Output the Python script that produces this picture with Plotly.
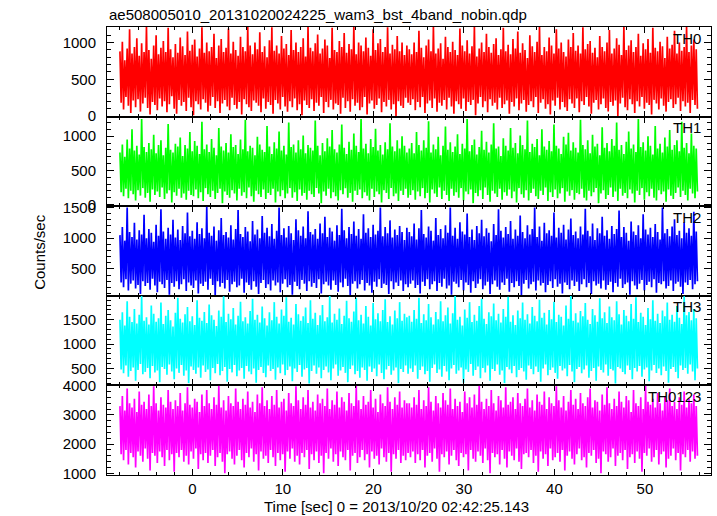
import numpy as np
import plotly.graph_objects as go
from plotly.subplots import make_subplots

# ---------------- data ----------------
t_start, t_stop = -8.0, 55.8

labels = ["TH0", "TH1", "TH2", "TH3", "TH0123"]
colors = ["#ff0000", "#00ff00", "#0000ff", "#00ffff", "#ff00ff"]

th0_high = [880, 1010, 760, 920, 1180, 850, 940, 1060, 820, 990,
            870, 1220, 900, 780, 960, 1100, 840, 930, 1020, 870,
            1200, 910, 800, 980, 860, 1070, 950, 830, 1150, 890,
            970, 1040, 810, 920, 1210, 860, 1000, 880, 940, 1120,
            790, 960, 1050, 870, 930, 1190, 850, 1010, 900, 820,
            1080, 940, 880, 1220, 960, 840, 1000, 910, 1140, 870,
            950, 800, 1030, 1210, 890, 960, 850, 1090, 920, 980,
            830, 1170, 900, 1000, 870, 940, 1060, 810, 1220, 930,
            880, 990, 1110, 850, 920, 1040, 960, 790, 1200, 900,
            870, 1020, 940, 1130, 860, 980, 910, 1220, 840, 1000,
            960, 880, 1070, 930, 820, 1180, 900, 990, 1050, 870,
            940, 1210, 850, 970, 910, 1090, 880, 1000, 830, 960,
            910, 840, 1000, 870, 1160, 930, 800, 960, 1040, 880,
            1220, 850, 920, 990, 780, 1080, 940, 870, 1010, 900,
            830, 1190, 960, 880, 1030, 850, 950, 1220, 810, 920,
            1000, 870, 1120, 940, 860, 980, 1060, 830, 910, 1200,
            880, 970, 840, 1050, 920, 1150, 860, 990, 900, 790,
            1100, 950, 870, 1010, 1220, 830, 940, 880, 1070, 960,
            850, 1180, 920, 1000, 870, 810, 1040, 940, 1130, 890,
            960, 850, 1210, 910, 980, 1020, 860, 930, 800, 1090,
            940, 880, 1000, 1170, 850, 920, 1060, 970, 830, 1220,
            900, 960, 1030, 870, 940, 1120, 820, 990, 910, 1050,
            860, 1200, 930, 880, 1010, 950, 790, 1080, 920, 970,
            1160, 850, 1000, 890, 940, 1220, 870, 960, 1040, 910]
th0_low = [180, 90, 260, 140, 40, 210, 120, 230, 60, 170,
           250, 110, 20, 190, 150, 80, 240, 130, 200, 50,
           160, 270, 100, 30, 220, 140, 190, 70, 250, 120,
           10, 200, 160, 90, 230, 180, 60, 140, 260, 110,
           200, 40, 170, 220, 130, 80, 250, 150, 100, 190,
           20, 230, 160, 120, 70, 210, 180, 140, 50, 240,
           100, 190, 150, 30, 220, 170, 90, 260, 130, 60,
           200, 120, 240, 80, 160, 10, 210, 150, 110, 230,
           70, 180, 140, 260, 40, 190, 120, 220, 90, 170,
           150, 30, 250, 110, 200, 60, 230, 140, 180, 80,
           120, 260, 20, 170, 210, 100, 150, 240, 50, 190,
           130, 220, 90, 160, 0, 200, 140, 110, 250, 180,
           150, 230, 80, 190, 120, 260, 40, 170, 210, 110,
           240, 60, 180, 140, 220, 90, 250, 130, 30, 200,
           160, 100, 240, 70, 190, 150, 220, 10, 170, 260,
           120, 200, 50, 230, 140, 180, 90, 250, 110, 160,
           210, 30, 190, 130, 240, 80, 170, 220, 60, 150,
           200, 120, 260, 40, 180, 230, 100, 160, 20, 210,
           140, 250, 90, 190, 120, 70, 230, 170, 110, 240,
           50, 200, 150, 260, 130, 30, 180, 220, 90, 160,
           240, 110, 60, 190, 140, 210, 0, 170, 250, 120,
           80, 230, 160, 40, 200, 130, 260, 100, 180, 150,
           20, 220, 170, 90, 240, 140, 60, 190, 230, 110,
           160, 250, 70, 200, 130, 180, 40, 220, 150, 100]

th1_high = [760, 880, 700, 950, 820, 1100, 790, 860, 730, 1250,
            840, 770, 900, 810, 1020, 750, 870, 940, 720, 830,
            1180, 800, 760, 890, 850, 980, 710, 870, 820, 1060,
            780, 930, 860, 740, 1210, 810, 880, 770, 960, 830,
            720, 1120, 850, 790, 900, 760, 1030, 840, 870, 740,
            950, 810, 1240, 780, 860, 830, 720, 990, 880, 800,
            770, 1150, 850, 740, 910, 820, 1070, 790, 860, 730,
            1200, 840, 880, 760, 940, 810, 1010, 750, 870, 830,
            790, 1230, 860, 720, 900, 780, 970, 850, 1090, 810,
            760, 880, 1170, 830, 740, 920, 800, 1040, 860, 770,
            1250, 820, 890, 750, 960, 840, 1110, 790, 870, 730,
            910, 810, 1190, 850, 780, 940, 820, 1000, 860, 760,
            820, 900, 750, 1060, 870, 790, 940, 830, 1220, 760,
            880, 810, 990, 720, 860, 1140, 800, 910, 770, 850,
            1030, 740, 890, 820, 1250, 780, 870, 950, 730, 840,
            1080, 800, 920, 760, 880, 1190, 820, 850, 710, 970,
            860, 790, 1120, 830, 900, 750, 1010, 870, 810, 1230,
            770, 890, 840, 960, 720, 1100, 850, 800, 930, 780,
            1170, 860, 820, 740, 990, 880, 1050, 790, 910, 830,
            760, 1240, 870, 810, 940, 750, 1020, 850, 890, 720,
            1130, 830, 900, 780, 960, 860, 1200, 800, 870, 740,
            920, 1070, 820, 880, 770, 1250, 840, 910, 790, 1000,
            860, 730, 1150, 820, 890, 760, 980, 850, 1090, 800,
            870, 940, 780, 1210, 830, 900, 750, 1040, 860, 820]
th1_low = [180, 120, 230, 90, 200, 150, 60, 210, 130, 240,
           100, 170, 40, 220, 140, 190, 110, 250, 80, 160,
           210, 30, 180, 130, 230, 100, 160, 70, 200, 140,
           120, 220, 90, 180, 50, 240, 150, 110, 200, 80,
           170, 230, 20, 190, 140, 100, 210, 160, 60, 230,
           130, 180, 90, 250, 120, 40, 200, 150, 110, 220,
           80, 170, 140, 230, 30, 190, 120, 210, 90, 160,
           240, 100, 180, 50, 220, 130, 170, 70, 200, 150,
           110, 240, 160, 20, 190, 130, 230, 90, 180, 120,
           60, 210, 150, 240, 100, 170, 40, 200, 140, 220,
           90, 180, 130, 60, 230, 110, 190, 150, 30, 210,
           170, 80, 240, 120, 160, 50, 200, 140, 230, 100,
           140, 210, 70, 190, 120, 240, 90, 170, 30, 220,
           160, 110, 250, 80, 200, 140, 50, 230, 130, 180,
           100, 240, 60, 190, 150, 220, 20, 170, 120, 210,
           80, 250, 140, 40, 200, 160, 110, 230, 70, 180,
           130, 220, 90, 190, 30, 240, 150, 100, 210, 60,
           170, 230, 120, 80, 200, 140, 250, 50, 180, 110,
           220, 90, 160, 240, 40, 190, 130, 210, 70, 170,
           150, 230, 100, 60, 200, 120, 180, 240, 20, 160,
           210, 80, 140, 250, 110, 190, 50, 230, 130, 170,
           90, 220, 160, 30, 200, 140, 240, 70, 180, 120,
           230, 100, 60, 210, 150, 190, 40, 220, 130, 80,
           170, 250, 110, 200, 140, 60, 230, 160, 90, 190]

th2_high = [1050, 1180, 960, 1500, 1100, 1020, 1250, 980, 1130, 1060,
            1380, 1000, 1150, 1090, 940, 1220, 1040, 1470, 1110, 990,
            1170, 1060, 1300, 1010, 1140, 970, 1200, 1080, 1420, 1030,
            1120, 990, 1260, 1070, 1160, 1000, 1510, 1090, 1040, 1190,
            960, 1130, 1330, 1050, 1100, 1010, 1210, 980, 1150, 1460,
            1070, 1020, 1180, 1110, 950, 1280, 1060, 1140, 1000, 1360,
            1090, 1170, 1030, 1230, 990, 1120, 1500, 1050, 1160, 1010,
            1200, 1080, 970, 1310, 1130, 1040, 1190, 1000, 1440, 1100,
            1060, 1150, 990, 1240, 1080, 1350, 1020, 1170, 1110, 960,
            1210, 1050, 1480, 1130, 1000, 1180, 1070, 1270, 1040, 1150,
            990, 1390, 1090, 1160, 1020, 1220, 1060, 1120, 1500, 1030,
            1180, 1080, 1290, 1010, 1140, 1050, 1200, 1100, 970, 1170,
            1100, 1030, 1240, 980, 1160, 1460, 1070, 1010, 1190, 1120,
            960, 1330, 1050, 1150, 1000, 1210, 1090, 1500, 1040, 1170,
            990, 1260, 1110, 1060, 1400, 1020, 1140, 970, 1200, 1080,
            1300, 1030, 1160, 1090, 950, 1230, 1050, 1470, 1120, 1010,
            1180, 1070, 1280, 990, 1140, 1040, 1370, 1100, 1000, 1210,
            1060, 1150, 1500, 1020, 1190, 960, 1250, 1080, 1130, 1040,
            1420, 1010, 1170, 1090, 1220, 980, 1140, 1320, 1050, 1110,
            1000, 1190, 1060, 1480, 1120, 1030, 1240, 970, 1160, 1080,
            1350, 1040, 1130, 990, 1200, 1070, 1150, 1450, 1020, 1180,
            1090, 960, 1270, 1110, 1050, 1210, 1000, 1390, 1140, 1060,
            1170, 1020, 1230, 1100, 980, 1500, 1080, 1150, 1030, 1190,
            1310, 1050, 1120, 1000, 1260, 1090, 1160, 1040, 1430, 1110]
th2_low = [280, 200, 330, 150, 260, 310, 180, 240, 90, 300,
           220, 270, 160, 340, 230, 120, 290, 250, 190, 320,
           80, 270, 210, 300, 170, 250, 330, 140, 280, 230,
           190, 310, 100, 260, 220, 290, 160, 340, 240, 70,
           300, 210, 270, 180, 320, 130, 250, 290, 200, 230,
           340, 110, 280, 240, 160, 300, 210, 90, 270, 320,
           190, 250, 150, 310, 230, 280, 120, 260, 330, 200,
           240, 80, 290, 220, 170, 320, 260, 140, 300, 210,
           270, 190, 330, 100, 250, 290, 230, 160, 310, 240,
           130, 280, 200, 340, 220, 75, 260, 300, 180, 250,
           320, 150, 270, 230, 110, 290, 210, 330, 190, 260,
           240, 90, 300, 170, 280, 220, 310, 140, 250, 200,
           260, 310, 190, 240, 100, 290, 220, 330, 170, 250,
           300, 140, 270, 210, 340, 180, 230, 80, 290, 260,
           200, 320, 150, 280, 240, 110, 300, 190, 260, 330,
           170, 230, 290, 90, 250, 310, 210, 160, 280, 240,
           340, 130, 270, 200, 300, 220, 70, 260, 320, 180,
           250, 290, 150, 310, 230, 270, 120, 240, 300, 190,
           330, 210, 260, 100, 280, 240, 170, 310, 220, 290,
           140, 250, 330, 200, 270, 90, 300, 230, 260, 180,
           310, 160, 240, 290, 120, 270, 210, 340, 190, 250,
           280, 80, 300, 230, 170, 260, 320, 150, 240, 290,
           200, 330, 110, 270, 250, 300, 180, 220, 310, 140,
           260, 290, 210, 90, 280, 240, 320, 170, 250, 300]

th3_high = [1500, 1650, 1380, 1880, 1560, 1450, 1720, 1420, 1600, 1990,
            1480, 1550, 1400, 1790, 1620, 1460, 1530, 1850, 1410, 1580,
            1700, 1490, 1360, 1640, 1950, 1520, 1440, 1610, 1760, 1470,
            1570, 1390, 1900, 1540, 1480, 1660, 1430, 1810, 1590, 1500,
            1370, 1690, 1560, 1980, 1450, 1620, 1510, 1740, 1400, 1580,
            1870, 1470, 1550, 1420, 1680, 1930, 1500, 1600, 1440, 1770,
            1530, 1380, 1650, 1490, 1860, 1560, 1420, 1710, 1580, 1960,
            1460, 1540, 1400, 1820, 1610, 1480, 1570, 1750, 1430, 1900,
            1520, 1640, 1390, 1590, 1800, 1470, 1550, 1990, 1440, 1620,
            1500, 1730, 1410, 1580, 1890, 1530, 1460, 1670, 1950, 1490,
            1600, 1420, 1780, 1560, 1380, 1840, 1510, 1630, 1470, 1700,
            1920, 1450, 1570, 1400, 1690, 1530, 1860, 1480, 1620, 1550,
            1580, 1460, 1700, 1520, 1950, 1430, 1610, 1490, 1820, 1550,
            1400, 1660, 1510, 1880, 1470, 1590, 1750, 1420, 1630, 1990,
            1500, 1560, 1380, 1710, 1540, 1860, 1450, 1600, 1480, 1780,
            1930, 1520, 1410, 1650, 1570, 1830, 1490, 1620, 1440, 1720,
            1560, 1970, 1460, 1590, 1390, 1690, 1530, 1850, 1500, 1610,
            1420, 1760, 1580, 1470, 1910, 1540, 1640, 1400, 1700, 1510,
            1870, 1450, 1600, 1560, 1380, 1790, 1520, 1990, 1480, 1630,
            1440, 1680, 1570, 1840, 1500, 1410, 1720, 1590, 1460, 1940,
            1530, 1650, 1430, 1770, 1550, 1490, 1880, 1610, 1400, 1700,
            1580, 1470, 1820, 1520, 1960, 1450, 1640, 1560, 1390, 1740,
            1510, 1900, 1480, 1620, 1430, 1690, 1570, 1850, 1500, 1600,
            1460, 1780, 1540, 1410, 1980, 1590, 1660, 1490, 1720, 1530]
th3_low = [480, 400, 560, 330, 450, 520, 250, 470, 590, 380,
           430, 510, 300, 550, 420, 460, 220, 530, 490, 370,
           580, 440, 280, 500, 410, 570, 350, 460, 200, 540,
           470, 390, 520, 310, 560, 430, 480, 260, 510, 400,
           590, 360, 450, 530, 230, 490, 420, 570, 340, 460,
           510, 290, 550, 440, 380, 500, 210, 470, 530, 410,
           320, 560, 450, 490, 270, 520, 400, 580, 360, 470,
           540, 240, 500, 430, 570, 330, 480, 510, 190, 450,
           560, 390, 520, 300, 470, 540, 420, 260, 500, 580,
           350, 460, 530, 410, 220, 490, 560, 380, 450, 310,
           520, 470, 250, 540, 430, 500, 340, 580, 410, 280,
           480, 550, 370, 460, 520, 200, 490, 430, 560, 390,
           500, 430, 560, 290, 470, 540, 380, 450, 230, 510,
           580, 410, 480, 330, 550, 440, 260, 500, 570, 390,
           460, 520, 210, 480, 430, 590, 350, 470, 540, 300,
           510, 420, 560, 250, 490, 450, 580, 370, 460, 200,
           530, 480, 400, 550, 320, 470, 510, 440, 270, 560,
           490, 380, 540, 430, 230, 500, 580, 360, 470, 520,
           410, 290, 550, 460, 500, 340, 570, 440, 220, 490,
           530, 400, 480, 560, 310, 450, 510, 250, 540, 470,
           420, 580, 350, 490, 460, 190, 530, 500, 430, 380,
           560, 470, 280, 510, 440, 550, 330, 480, 520, 240,
           460, 570, 410, 500, 360, 540, 450, 210, 490, 530,
           430, 300, 560, 470, 510, 390, 580, 440, 260, 500]

th0123_high = [3300, 3650, 3150, 3900, 3400, 3250, 3550, 3100, 3800, 3350,
               3450, 3200, 3700, 3300, 3980, 3400, 3150, 3600, 3350, 3250,
               3850, 3450, 3200, 3500, 3300, 3750, 3150, 3400, 3950, 3350,
               3250, 3550, 3450, 3100, 3700, 3300, 3850, 3400, 3200, 3600,
               3350, 4000, 3250, 3500, 3150, 3650, 3400, 3300, 3900, 3450,
               3200, 3550, 3350, 3800, 3250, 3450, 3100, 3700, 3400, 3950,
               3300, 3500, 3200, 3650, 3350, 3850, 3250, 3450, 3550, 3150,
               3750, 3400, 3300, 3980, 3500, 3200, 3600, 3350, 3850, 3250,
               3450, 3150, 3700, 3400, 3550, 3300, 3900, 3200, 3500, 3350,
               3800, 3250, 3600, 3450, 3150, 3750, 3400, 3300, 4000, 3500,
               3200, 3650, 3350, 3450, 3850, 3250, 3550, 3100, 3700, 3400,
               3300, 3950, 3450, 3200, 3600, 3350, 3800, 3250, 3500, 3400,
               3400, 3250, 3600, 3350, 3850, 3200, 3500, 3300, 3950, 3450,
               3150, 3650, 3400, 3250, 3750, 3500, 3350, 3900, 3200, 3550,
               3300, 3450, 3100, 3800, 3400, 3600, 3250, 3700, 3350, 4000,
               3450, 3200, 3550, 3300, 3850, 3400, 3150, 3650, 3500, 3250,
               3950, 3350, 3450, 3600, 3200, 3750, 3400, 3300, 3550, 3900,
               3250, 3500, 3150, 3700, 3450, 3350, 3800, 3200, 3600, 3400,
               3300, 3980, 3500, 3250, 3650, 3150, 3450, 3850, 3350, 3550,
               3200, 3750, 3400, 3300, 3600, 3900, 3250, 3500, 3450, 3150,
               3700, 3350, 3950, 3400, 3200, 3550, 3300, 3800, 3450, 3250,
               3650, 3500, 3100, 3850, 3400, 3300, 3600, 3200, 4000, 3450,
               3350, 3550, 3250, 3750, 3400, 3150, 3650, 3500, 3900, 3300,
               3450, 3200, 3600, 3350, 3800, 3250, 3550, 3400, 3700, 3300]
th0123_low = [1650, 1450, 1800, 1300, 1700, 1550, 1200, 1750, 1600, 1400,
              1850, 1500, 1100, 1700, 1600, 1350, 1750, 1550, 1250, 1800,
              1450, 1650, 1050, 1700, 1550, 1800, 1400, 1600, 1300, 1750,
              1500, 1850, 1150, 1650, 1450, 1700, 1350, 1600, 1800, 1250,
              1550, 1700, 1400, 1000, 1650, 1750, 1500, 1300, 1600, 1800,
              1450, 1200, 1700, 1550, 1850, 1400, 1650, 1100, 1750, 1500,
              1600, 1350, 1800, 1550, 1250, 1700, 1450, 1650, 1050, 1750,
              1500, 1850, 1400, 1600, 1300, 1700, 1550, 1800, 1150, 1650,
              1450, 1750, 1350, 1600, 1000, 1700, 1500, 1850, 1400, 1650,
              1250, 1750, 1550, 1450, 1800, 1100, 1600, 1700, 1350, 1550,
              1800, 1450, 1650, 1200, 1750, 1500, 1600, 1300, 1850, 1550,
              1400, 1700, 1050, 1650, 1500, 1800, 1350, 1600, 1450, 1700,
              1550, 1750, 1350, 1650, 1450, 1800, 1200, 1600, 1700, 1400,
              1850, 1500, 1050, 1650, 1550, 1750, 1300, 1600, 1800, 1450,
              1250, 1700, 1550, 1650, 1100, 1800, 1500, 1400, 1750, 1600,
              1350, 1850, 1450, 1000, 1700, 1550, 1650, 1300, 1800, 1500,
              1200, 1750, 1600, 1450, 1850, 1400, 1150, 1650, 1700, 1550,
              1800, 1350, 1600, 1050, 1750, 1500, 1650, 1250, 1850, 1450,
              1550, 1700, 1400, 1800, 1100, 1600, 1750, 1500, 1300, 1650,
              1850, 1450, 1550, 1200, 1700, 1600, 1800, 1350, 1500, 1000,
              1750, 1650, 1400, 1550, 1850, 1250, 1600, 1700, 1450, 1800,
              1150, 1550, 1650, 1350, 1750, 1500, 1050, 1700, 1600, 1850,
              1400, 1550, 1800, 1300, 1650, 1750, 1200, 1500, 1600, 1850,
              1450, 1700, 1100, 1650, 1550, 1800, 1400, 1750, 1500, 1600]

highs = [th0_high, th1_high, th2_high, th3_high, th0123_high]
lows = [th0_low, th1_low, th2_low, th3_low, th0123_low]

y_ranges = [[-8, 1212], [-25, 1287], [62, 1521], [153, 1990], [942, 4010]]
y_ticks = [[0, 500, 1000], [0, 500, 1000], [500, 1000, 1500],
           [500, 1000, 1500], [1000, 2000, 3000, 4000]]
y_minor = [100, 100, 100, 100, 200]

title_text = "ae508005010_20131020024225_wam3_bst_4band_nobin.qdp"
x_title = "Time [sec] 0 = 2013/10/20 02:42:25.143"
y_title = "Counts/sec"

# ---------------- figure ----------------
FONT = "Liberation Sans, Arial, Helvetica, sans-serif"
fig = make_subplots(rows=5, cols=1, shared_xaxes=True, vertical_spacing=0)

for i in range(5):
    n = min(len(highs[i]), len(lows[i]))
    yy = []
    for h, l in zip(highs[i][:n], lows[i][:n]):
        yy.extend([h, l])
    xx = np.linspace(t_start, t_stop, len(yy))
    fig.add_trace(go.Scatter(x=xx, y=yy, mode="lines",
                             line=dict(color=colors[i], width=1.7),
                             showlegend=False, hoverinfo="skip"),
                  row=i + 1, col=1)
    fig.update_yaxes(range=y_ranges[i], tickvals=y_ticks[i],
                     ticks="inside", ticklen=7, tickwidth=1, tickcolor="black",
                     minor=dict(dtick=y_minor[i], tick0=0, ticks="inside",
                                ticklen=4, tickcolor="black", showgrid=False),
                     showline=True, linecolor="black", linewidth=1,
                     mirror="allticks", showgrid=False, zeroline=False,
                     ticklabelstandoff=7,
                     tickfont=dict(family=FONT, size=15, color="black"),
                     row=i + 1, col=1)
    fig.update_xaxes(range=[-9.43, 57.3], dtick=10, tick0=0,
                     ticks="inside", ticklen=6, tickwidth=1, tickcolor="black",
                     minor=dict(dtick=2, tick0=0, ticks="inside", ticklen=3,
                                tickcolor="black", showgrid=False),
                     showline=True, linecolor="black", linewidth=1,
                     mirror="allticks", showgrid=False, zeroline=False,
                     tickfont=dict(family=FONT, size=15, color="black"),
                     row=i + 1, col=1)
    fig.add_annotation(text=labels[i], xref=f"x{'' if i == 0 else i + 1} domain",
                       yref=f"y{'' if i == 0 else i + 1} domain",
                       x=0.987, y=0.877, xanchor="right", yanchor="middle",
                       showarrow=False,
                       font=dict(family=FONT, size=15, color="black"))

fig.add_annotation(text=title_text, xref="paper", yref="paper", x=0.0, y=1.027,
                   xanchor="left", yanchor="middle", showarrow=False,
                   font=dict(family=FONT, size=15, color="black"))
fig.add_annotation(text=x_title, xref="paper", yref="paper", x=0.48, y=-0.0714,
                   xanchor="center", yanchor="middle", showarrow=False,
                   font=dict(family=FONT, size=15, color="black"))
fig.add_annotation(text=y_title, xref="paper", yref="paper", x=-0.111, y=0.498,
                   xanchor="center", yanchor="middle", textangle=-90,
                   showarrow=False,
                   font=dict(family=FONT, size=15, color="black"))

fig.update_layout(width=717, height=516,
                  margin=dict(l=107, r=6, t=27, b=41),
                  paper_bgcolor="white", plot_bgcolor="white",
                  font=dict(family=FONT, size=15, color="black"))

fig.write_html("out.html", config={"displayModeBar": False},
               post_script="document.body.style.margin='0';document.body.style.padding='0';")
